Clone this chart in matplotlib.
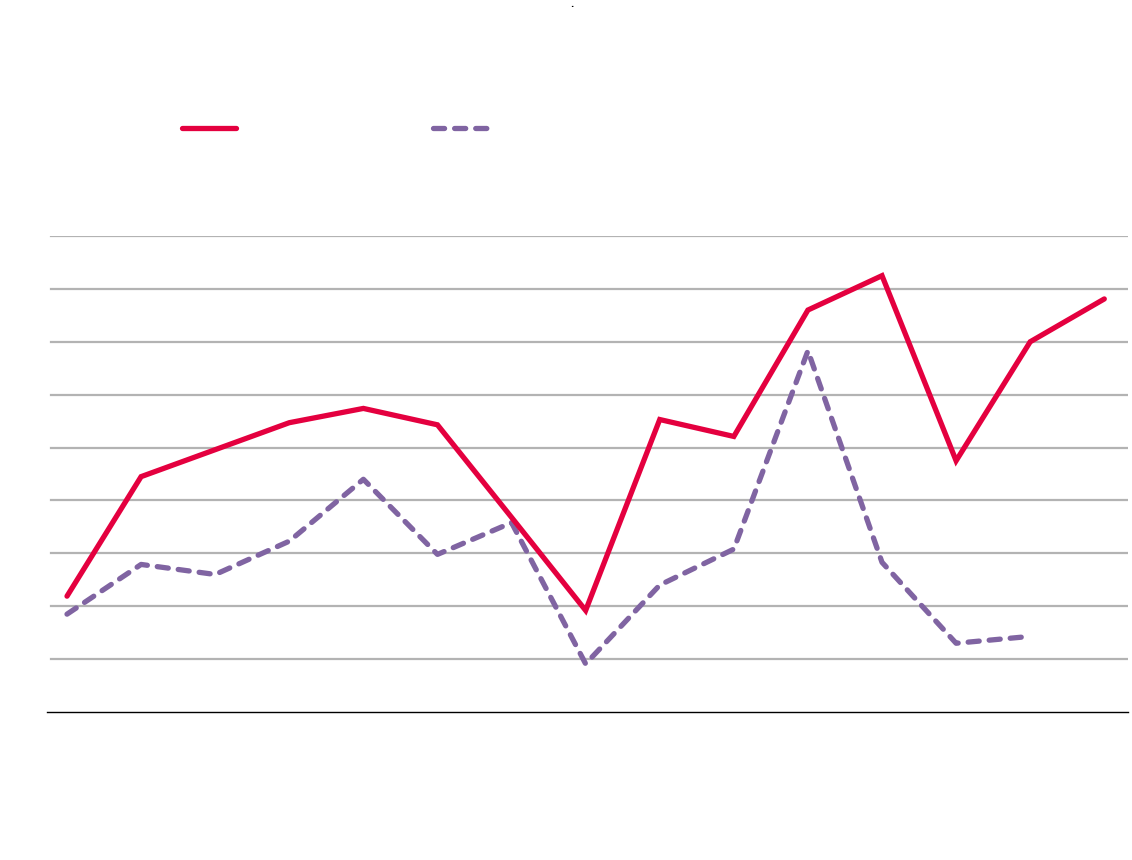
import matplotlib
matplotlib.use('Agg')
import matplotlib.pyplot as plt
from matplotlib.lines import Line2D

# values (no axis labels shown in the original)
periods = list(range(15))
series_a = [2.19, 4.45, 4.96, 5.47, 5.74, 5.43, 3.68, 1.92, 5.53, 5.21, 7.60, 8.25, 4.75, 7.00, 7.81]
series_b = [1.85, 2.79, 2.60, 3.23, 4.40, 2.98, 3.58, 0.91, 2.40, 3.08, 6.83, 2.83, 1.30, 1.43]
grid_levels = [1, 2, 3, 4, 5, 6, 7, 8, 9]

RED = '#E4003F'
PURPLE = '#8064A2'
W, H = 1132, 860

fig = plt.figure(figsize=(W/100, H/100), dpi=100)
ax = fig.add_axes([47/W, 1-712/H, (1128-47)/W, (712-236)/H])

for g in grid_levels:
    ax.axhline(g, xmin=0.004, xmax=1, color='#B3B3B3', lw=1.6, zorder=1)

ax.plot(periods, series_a, color=RED, lw=3.8, solid_capstyle='round',
        solid_joinstyle='miter', zorder=3, clip_on=False)
lb, = ax.plot(periods[:len(series_b)], series_b, color=PURPLE, lw=3.8,
              dash_capstyle='round', zorder=2, clip_on=False)
lb.set_dashes([2.1, 1.9])

ax.set_xlim(-0.27, 14.32)
ax.set_ylim(0, 9)
ax.set_xticks([])
ax.set_yticks([])
for s in ['top', 'right', 'left']:
    ax.spines[s].set_visible(False)
ax.spines['bottom'].set_color('black')
ax.spines['bottom'].set_linewidth(1.0)

h1 = Line2D([], [], color=RED, lw=3.8, solid_capstyle='round')
h2 = Line2D([], [], color=PURPLE, lw=3.8, dash_capstyle='round', dashes=[2.1, 1.9])
fig.legend([h1, h2], ['', ''], ncol=2, loc='center left',
           bbox_to_anchor=(182/W, 1-129/H), frameon=False, borderpad=0,
           borderaxespad=0, handletextpad=0, handlelength=3.9,
           columnspacing=14.2, fontsize=10)

fig.text(572/W, 1.0, '.', ha='center', va='top', fontsize=6, fontweight='bold')

fig.savefig('out.png', dpi=100, facecolor='white')
